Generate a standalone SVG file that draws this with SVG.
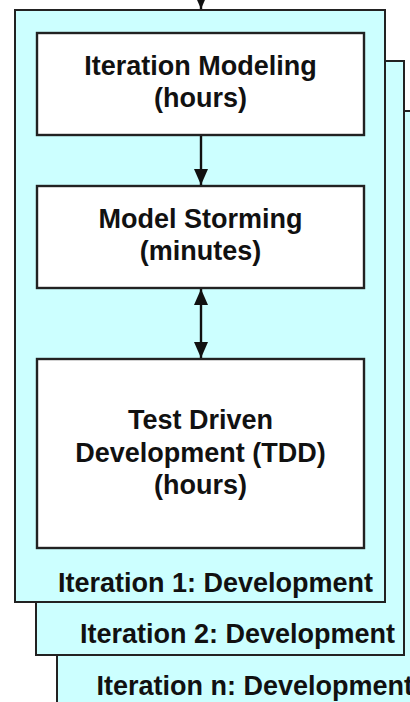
<svg xmlns="http://www.w3.org/2000/svg" width="410" height="702" viewBox="0 0 410 702">
<defs>
<marker id="ah" viewBox="0 0 16 14" refX="16" refY="7" markerWidth="16" markerHeight="14" markerUnits="userSpaceOnUse" orient="auto-start-reverse">
<path d="M0,0 L16,7 L0,14 Z" fill="#111"/>
</marker>
</defs>
<style>
.frame{fill:#ccffff;stroke:#222;stroke-width:2}
.box{fill:#ffffff;stroke:#222;stroke-width:2.4}
.t{font-family:"Liberation Sans",Arial,sans-serif;font-weight:bold;font-size:27px;fill:#111}
.c{stroke:#111;stroke-width:2.4;fill:none}
</style>
<g id="iteration-n">
<rect class="frame" x="57" y="111" width="370" height="610"/>
<text class="t" x="413" y="695" text-anchor="end">Iteration n: Development</text>
</g>
<g id="iteration-2">
<rect class="frame" x="36" y="61" width="368" height="594"/>
<text class="t" x="395" y="643" text-anchor="end">Iteration 2: Development</text>
</g>
<g id="iteration-1">
<rect class="frame" x="15" y="10" width="370" height="592"/>
<text class="t" x="373" y="592" text-anchor="end">Iteration 1: Development</text>
</g>
<g id="iteration-modeling">
<rect class="box" x="37" y="33" width="327" height="102"/>
<text class="t" x="200.5" y="75" text-anchor="middle">Iteration Modeling</text>
<text class="t" x="200.5" y="107" text-anchor="middle">(hours)</text>
</g>
<g id="model-storming">
<rect class="box" x="37" y="186" width="327" height="102"/>
<text class="t" x="200.5" y="228" text-anchor="middle">Model Storming</text>
<text class="t" x="200.5" y="260" text-anchor="middle">(minutes)</text>
</g>
<g id="tdd">
<rect class="box" x="37" y="359" width="327" height="189"/>
<text class="t" x="200.5" y="429" text-anchor="middle">Test Driven</text>
<text class="t" x="200.5" y="462" text-anchor="middle">Development (TDD)</text>
<text class="t" x="200.5" y="494" text-anchor="middle">(hours)</text>
</g>
<g id="connectors">
<line class="c" x1="201" y1="-10" x2="201" y2="9" marker-end="url(#ah)"/>
<line class="c" x1="201" y1="136" x2="201" y2="185" marker-end="url(#ah)"/>
<line class="c" x1="201" y1="289" x2="201" y2="358" marker-start="url(#ah)" marker-end="url(#ah)"/>
</g>
</svg>
